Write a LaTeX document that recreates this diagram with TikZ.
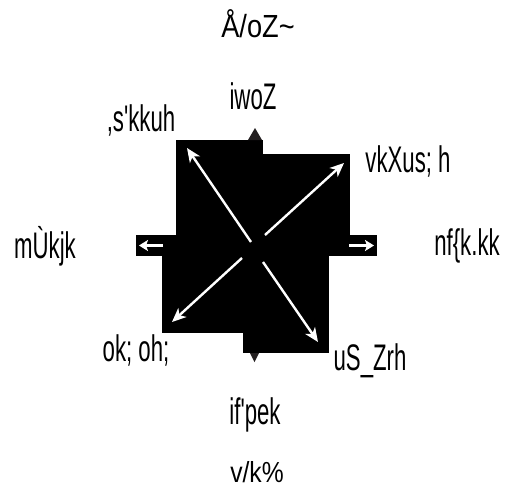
\documentclass[tikz,border=0pt]{standalone}
\usepackage{fontspec}
\setmainfont{Liberation Sans}
\newfontfamily\narrowfont[FakeStretch=0.6]{Liberation Sans}
\newfontfamily\titlefont[FakeStretch=0.85]{Liberation Sans}
\usetikzlibrary{arrows.meta}
\definecolor{tipgray}{HTML}{231F20}

\begin{document}
\begin{tikzpicture}[
  x=1pt,
  y=-1pt,
  title/.style={
    inner sep=0pt,
    font=\titlefont\fontsize{32}{34}\selectfont
  },
  dirlabel/.style={
    inner sep=0pt,
    font=\narrowfont\fontsize{37}{39}\selectfont
  },
  block/.style={fill=black},
  tipmark/.style={fill=tipgray},
  ray/.style={white, line width=2.4pt, -{Stealth[length=14pt,width=12pt,inset=4pt]}},
  sidearrow/.style={white, line width=3pt, -{Stealth[length=9pt,width=11pt,inset=2pt]}}
]
\useasboundingbox (0,0) rectangle (507,490);

% Black body of the compass.
\fill[block] (176,140) rectangle (263,256);
\fill[block] (263,154) rectangle (350,256);
\fill[block] (136,235) rectangle (377,256);
\fill[block] (162,235) rectangle (250,333);
\fill[block] (243,255) rectangle (329,353);

% Small marks above and below.
\fill[tipmark] (248,140) -- (255,128) -- (262,140) -- cycle;
\fill[tipmark] (250,353) -- (254.5,362) -- (259,353) -- cycle;

% Labels round the compass.
\node[title] (urdhva) at (258,24) {Å/oZ\textasciitilde};
\node[dirlabel] (purva) at (253,96) {iwoZ};
\node[dirlabel] (aishani) at (141,120) {,s'kkuh};
\node[dirlabel] (agneyi) at (408,161) {vkXus; h};
\node[dirlabel] (uttara) at (45,246) {mÙkjk};
\node[dirlabel] (dakshina) at (467,246) {nf\{k.kk};
\node[dirlabel] (vayavi) at (136,350) {ok; oh;};
\node[dirlabel] (nairriti) at (370,361) {uS\_Zrh};
\node[dirlabel] (paschima) at (255,415) {if'pek};
\node[title, font=\titlefont\fontsize{29}{31}\selectfont] (adhah) at (257,472) {v/k\%};

% Ends of the white rays.
\coordinate (nwStart) at (251,242);
\coordinate (nwTip) at (187,148);
\coordinate (neStart) at (265,235);
\coordinate (neTip) at (344,163);
\coordinate (swStart) at (242,258);
\coordinate (swTip) at (172,322);
\coordinate (seStart) at (263,262);
\coordinate (seTip) at (318,342);
\coordinate (wStart) at (163,245.5);
\coordinate (wTip) at (139,245.5);
\coordinate (eStart) at (349,245.5);
\coordinate (eTip) at (374,245.5);

% White rays.
\draw[ray] (nwStart) -- (nwTip);
\draw[ray] (neStart) -- (neTip);
\draw[ray] (swStart) -- (swTip);
\draw[ray] (seStart) -- (seTip);
\draw[sidearrow] (wStart) -- (wTip);
\draw[sidearrow] (eStart) -- (eTip);

\end{tikzpicture}
\end{document}
